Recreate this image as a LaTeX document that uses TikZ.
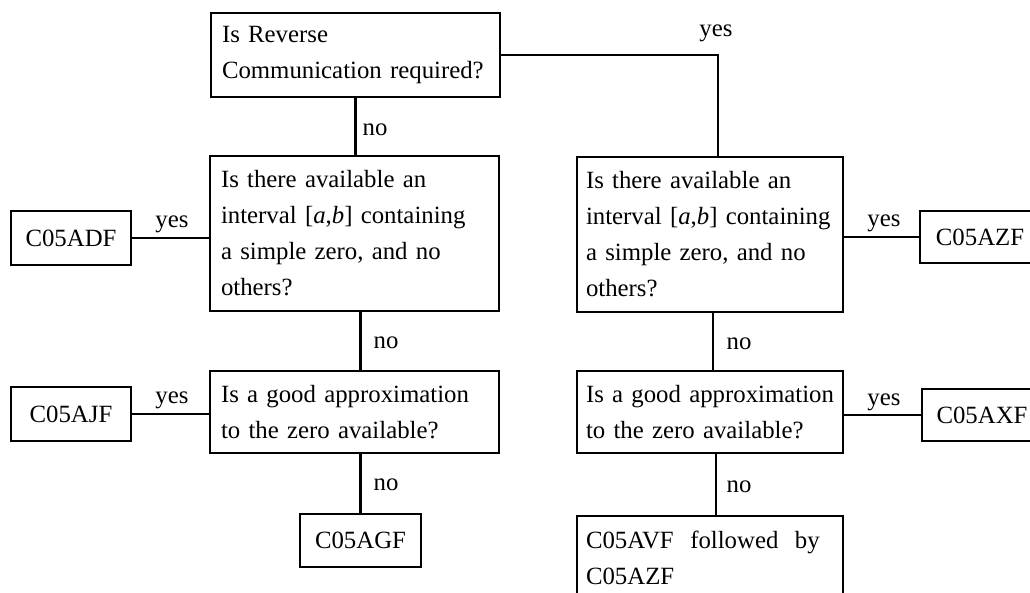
\documentclass[tikz,border=0pt]{standalone}
\usepackage{fontspec}
\setmainfont{Liberation Serif}
\newcommand{\fsz}{\fontsize{24.8}{36}\selectfont}
\begin{document}
\begin{tikzpicture}[x=1pt,y=-1pt,
  qbox/.style={draw, line width=2.6pt, inner xsep=11pt, inner ysep=0pt, font=\fsz, align=left},
  rbox/.style={qbox, inner xsep=9pt, text width=248pt},
  sbox/.style={draw, line width=2.6pt, inner sep=0pt, font=\fsz, minimum width=120pt, minimum height=54pt},
  conn/.style={line width=2.2pt},
  lab/.style={font=\fsz, inner sep=0pt, anchor=base}]
\useasboundingbox (0,0) rectangle (1030,593);
\clip (0,0) rectangle (1030,593);

% question boxes
\node[qbox, text width=267pt, minimum height=84pt] (T) at (355.5,55) {Is Reverse\\Communication required?};
\node[qbox, text width=267pt, minimum height=155pt] (Q2L) at (354.5,233.5) {Is there available an\\interval [\textit{a},\textit{b}] containing\\a simple zero, and no\\others?};
\node[qbox, text width=267pt, minimum height=82pt] (Q3L) at (354.5,412) {Is a good approximation\\to the zero available?};
\node[rbox, minimum height=155pt] (Q2R) at (710,234.5) {Is there available an\\interval [\textit{a},\textit{b}] containing\\a simple zero, and no\\others?};
\node[rbox, minimum height=82pt] (Q3R) at (710,412) {Is a good approximation\\to the zero available?};
\node[rbox, minimum height=84pt] (AVF) at (710,558) {C05AVF\ \ followed\ \ by\\C05AZF};

% result boxes
\node[sbox] (ADF) at (71,238) {C05ADF};
\node[sbox] (AJF) at (71,414) {C05AJF};
\node[sbox, minimum width=121pt, minimum height=53pt] (AGF) at (360.5,540.5) {C05AGF};
\node[sbox, minimum height=52pt] (AZF) at (980,237) {C05AZF};
\node[sbox, minimum height=52pt] (AXF) at (982,415) {C05AXF};

% connectors
\draw[conn] (T.south) -- (T.south |- Q2L.north);
\draw[conn] (T.east) -| ([xshift=8pt]Q2R.north);
\draw[conn] (Q2L.south -| AGF.north) -- (Q3L.north -| AGF.north);
\draw[conn] (Q3L.south -| AGF.north) -- (AGF.north);
\draw[conn] (ADF.east) -- (ADF.east -| Q2L.west);
\draw[conn] (AJF.east) -- (AJF.east -| Q3L.west);
\draw[conn] ([xshift=3pt]Q2R.south) -- ([xshift=3pt]Q2R.south |- Q3R.north);
\draw[conn] ([xshift=6pt]Q3R.south) -- ([xshift=6pt]Q3R.south |- AVF.north);
\draw[conn] (AZF.west) -- (AZF.west -| Q2R.east);
\draw[conn] (AXF.west) -- (AXF.west -| Q3R.east);

% labels
\node[lab] (no1) at (375,135.5) {no};
\node[lab] (no2) at (386,348.5) {no};
\node[lab] (no3) at (386,490.5) {no};
\node[lab] (no4) at (739,349.5) {no};
\node[lab] (no5) at (739,492.5) {no};
\node[lab] (yes1) at (716,37) {yes};
\node[lab] (yes2) at (172,227.5) {yes};
\node[lab] (yes3) at (172,403.5) {yes};
\node[lab] (yes4) at (884,227) {yes};
\node[lab] (yes5) at (884,405) {yes};
\end{tikzpicture}
\end{document}
